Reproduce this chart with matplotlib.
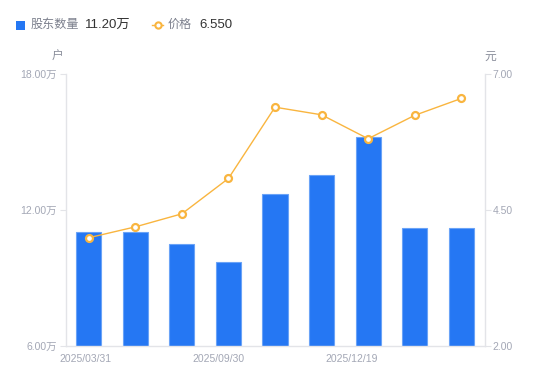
import matplotlib
matplotlib.use("Agg")
import matplotlib.pyplot as plt
from matplotlib.patches import Rectangle
from matplotlib.lines import Line2D

plt.rcParams['font.family'] = ['Liberation Sans', 'Noto Sans CJK SC', 'DejaVu Sans']

# Data
holders = [11.02, 11.03, 10.50, 9.71, 12.72, 13.53, 15.21, 11.20, 11.20]  # 万户
price = [3.99, 4.19, 4.43, 5.08, 6.39, 6.25, 5.81, 6.24, 6.55]
tick_pos = [-0.07, 2.79, 5.64]
tick_labels = ["2025/03/31", "2025/09/30", "2025/12/19"]
left_ticks = [6, 12, 18]
right_ticks = [2.0, 4.5, 7.0]

BLUE = '#2577f3'
ORANGE = '#f9b53f'
TICK_C = '#a3a7b5'
AX_C = '#e3e4e8'

W, H = 550, 381
fig = plt.figure(figsize=(W/100, H/100), dpi=100)
ax = fig.add_axes([65.5/W, (H-346)/H, 419/W, 272/H])
x = list(range(len(holders)))
ax.bar(x, holders, width=0.54, color=BLUE, edgecolor='#6aa3f7', linewidth=0.8, zorder=2)
ax.set_xlim(-0.5, len(holders)-0.5)
ax.set_ylim(6, 18)
ax.set_yticks(left_ticks)
ax.set_yticklabels([f"{v:.2f}万" for v in left_ticks])
ax.set_xticks(tick_pos)
ax.set_xticklabels(tick_labels)
ax.tick_params(axis='x', length=0, pad=6, labelsize=7.5, labelcolor=TICK_C)
ax.tick_params(axis='y', length=4, width=0.8, color=AX_C, pad=2, labelsize=7.5, labelcolor=TICK_C)
for s in ['top', 'right']:
    ax.spines[s].set_visible(False)
for s in ['left', 'bottom']:
    ax.spines[s].set_color(AX_C)
    ax.spines[s].set_linewidth(1)

ax2 = ax.twinx()
ax2.plot(x, price, color=ORANGE, linewidth=1, marker='o', markersize=5,
         markerfacecolor='white', markeredgecolor=ORANGE, markeredgewidth=1.6, zorder=3)
ax2.set_ylim(2, 7)
ax2.set_yticks(right_ticks)
ax2.set_yticklabels([f"{v:.2f}" for v in right_ticks])
ax2.tick_params(axis='y', length=4, width=0.8, color=AX_C, pad=2, labelsize=7.5, labelcolor=TICK_C)
for s in ['top', 'left', 'bottom']:
    ax2.spines[s].set_visible(False)
ax2.spines['right'].set_color(AX_C)
ax2.spines['right'].set_linewidth(1)

# Unit labels
fig.text(58/W, 1-57/H, "户", fontsize=8.5, color='#8a8e9b', ha='center', va='center')
fig.text(490/W, 1-57/H, "元", fontsize=8.5, color='#8a8e9b', ha='center', va='center')

# Legend
ly = 1 - 25/H
fig.patches.append(Rectangle((16/W, 1-29.5/H), 9/W, 9/H, transform=fig.transFigure,
                             facecolor=BLUE, edgecolor='none', figure=fig))
fig.text(31/W, ly, "股东数量", fontsize=8.7, color='#7c808d', va='center', ha='left')
fig.text(85/W, ly, f"{holders[-1]:.2f}万", fontsize=9.5, color='#333333', va='center', ha='left')
fig.lines.append(Line2D([152/W, 163/W], [ly, ly], transform=fig.transFigure, color=ORANGE,
                        linewidth=1, figure=fig))
fig.lines.append(Line2D([157.5/W], [ly], transform=fig.transFigure, color=ORANGE, marker='o',
                        markersize=4.5, markerfacecolor='white', markeredgewidth=1.5, figure=fig))
fig.text(168/W, ly, "价格", fontsize=8.7, color='#7c808d', va='center', ha='left')
fig.text(199/W, ly, f"{price[-1]:.3f}", fontsize=9.5, color='#333333', va='center', ha='left')

fig.savefig("out.png", dpi=100)
